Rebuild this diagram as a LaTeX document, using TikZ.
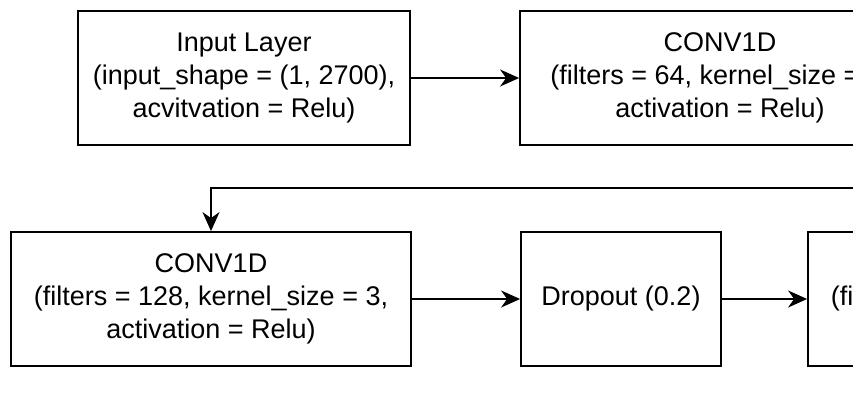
\documentclass[tikz,border=0pt]{standalone}
\usepackage{fontspec}
\setmainfont{Liberation Sans}
\usepackage{tikz}
\usetikzlibrary{arrows.meta, positioning}

\begin{document}
\begin{tikzpicture}[
    x=0.5pt, y=-0.5pt,
    layer/.style={rectangle, draw, line width=0.9pt, minimum width=200pt,
                  minimum height=67pt, align=center, inner sep=0pt,
                  font=\fontsize{13.5}{16.5}\selectfont},
    flow/.style={line width=0.9pt,
                 -{Stealth[length=9.5pt, width=8.5pt, inset=3pt]}}]

%% Canvas, everything past the right edge is cut off
\useasboundingbox (0,0) rectangle (853,407);
\clip (0,0) rectangle (853,407);

%% Row 1: input and first convolution
\node[layer, minimum width=166pt] (input) at (244,78)
    {Input Layer\\(input\_shape = (1, 2700),\\acvitvation = Relu)};
\node[layer] (conv1) at (720,78)
    {CONV1D\\(filters = 64, kernel\_size = 3,\\activation = Relu)};

%% Row 2: second convolution, dropout, next layer
\node[layer] (conv2) at (211,299)
    {CONV1D\\(filters = 128, kernel\_size = 3,\\activation = Relu)};
\node[layer, minimum width=100pt] (drop1) at (621,299) {Dropout (0.2)};
\node[layer] (conv3) at (1008,299)
    {CONV1D\\(filters = 128, kernel\_size = 3,\\activation = Relu)};

%% Connectors
\draw[flow] (input) -- (conv1);
\draw[flow] (conv2) -- (drop1);
\draw[flow] (drop1) -- (conv3);

%% Wrap-around from the end of row 1
\coordinate (wrap) at (900,188);
\draw[flow] (wrap) -| (conv2.north);

\end{tikzpicture}
\end{document}
